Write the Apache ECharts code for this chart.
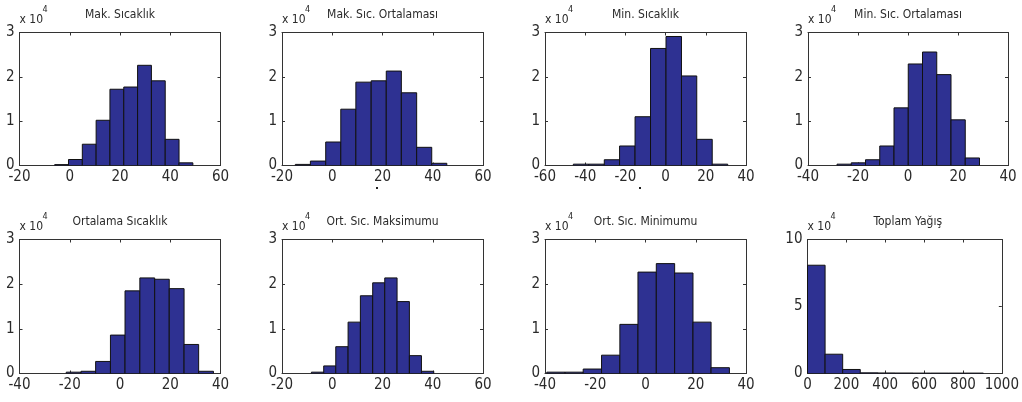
<!DOCTYPE html>
<html>
<head>
<meta charset="utf-8">
<script src="https://cdn.jsdelivr.net/npm/echarts@6/dist/echarts.min.js"></script>
<style>
html,body{margin:0;padding:0;background:#fff;}
#chart{width:1022px;height:402px;}
</style>
</head>
<body>
<div id="chart"></div>
<script>
// ---- data ----
const titles = ['Mak. Sıcaklık', 'Mak. Sıc. Ortalaması', 'Min. Sıcaklık', 'Min. Sıc. Ortalaması',
                'Ortalama Sıcaklık', 'Ort. Sıc. Maksimumu', 'Ort. Sıc. Minimumu', 'Toplam Yağış'];
const xMin = [-20, -20, -60, -40, -40, -20, -40, 0];
const xMax = [60, 60, 40, 40, 40, 60, 40, 1000];
const xStep = [20, 20, 20, 20, 20, 20, 20, 200];
const yMax = [3, 3, 3, 3, 3, 3, 3, 10];
const yStep = [1, 1, 1, 1, 1, 1, 1, 5];
const yScaleLabel = 'x 10';
const yScaleExp = '4';

// histogram bin edges (11 per panel) and counts (10 per panel)
const edges1 = [-6, -0.5, 5, 10.5, 16, 21.5, 27, 32.5, 38, 43.5, 49];
const counts1 = [200, 1350, 4800, 10200, 17200, 17700, 22600, 19100, 5900, 600];
const edges2 = [-14.7, -8.7, -2.6, 3.4, 9.4, 15.5, 21.5, 27.5, 33.6, 39.6, 45.6];
const counts2 = [250, 1000, 5300, 12700, 18800, 19100, 21300, 16400, 4100, 500];
const edges3 = [-45.9, -38.2, -30.5, -22.9, -15.2, -7.5, 0.2, 7.9, 15.5, 23.2, 30.9];
const counts3 = [300, 300, 1300, 4400, 11000, 26400, 29100, 20200, 5900, 300];
const edges4 = [-28.4, -22.7, -17.0, -11.3, -5.6, 0.1, 5.8, 11.5, 17.2, 22.9, 28.6];
const counts4 = [300, 600, 1300, 4400, 13000, 22900, 25600, 20500, 10300, 1700];
const edges5 = [-21.4, -15.5, -9.7, -3.8, 2.0, 7.9, 13.8, 19.6, 25.5, 31.3, 37.2];
const counts5 = [300, 500, 2700, 8600, 18500, 21400, 21100, 19000, 6500, 500];
const edges6 = [-8.3, -3.4, 1.4, 6.3, 11.2, 16.1, 20.9, 25.8, 30.7, 35.5, 40.4];
const counts6 = [300, 1700, 6000, 11500, 17400, 20300, 21400, 16100, 4000, 500];
const edges7 = [-39.3, -32.0, -24.8, -17.5, -10.2, -3.0, 4.3, 11.6, 18.9, 26.1, 33.4];
const counts7 = [300, 300, 1000, 4100, 11000, 22700, 24600, 22500, 11500, 1300];
const edges8 = [0, 90.5, 181, 271.5, 362, 452.5, 543, 633.5, 724, 814.5, 905];
const counts8 = [80800, 14400, 3000, 500, 400, 350, 300, 300, 300, 300];

const allEdges = [edges1, edges2, edges3, edges4, edges5, edges6, edges7, edges8];
const allCounts = [counts1, counts2, counts3, counts4, counts5, counts6, counts7, counts8];

// ---- layout ----
const gridLeft = [19.5, 282, 545, 808, 19.5, 282, 545, 807.5];
const gridWidth = [201, 201, 201, 200, 201, 201, 201, 200.5];
const gridTop = [32.5, 32.5, 32.5, 32.5, 239.5, 239.5, 239.5, 239.5];
const gridHeight = [133, 133, 133, 133, 134, 134, 134, 134];

const FONT = "'DejaVu Sans Condensed', 'Liberation Sans', sans-serif";
const TXT = '#2a2a2a';
const AX = '#333';
const BAR = '#2E3192';

const chart = echarts.init(document.getElementById('chart'), null, {renderer: 'canvas'});

const grid = [], xAxis = [], yAxis = [], series = [], graphic = [];
for (let i = 0; i < 8; i++) {
  grid.push({left: gridLeft[i], top: gridTop[i], width: gridWidth[i], height: gridHeight[i],
             show: false, containLabel: false});
  const tickCommon = {show: true, inside: true, length: 3, lineStyle: {color: AX, width: 1}};
  xAxis.push({type: 'value', gridIndex: i, position: 'bottom', min: xMin[i], max: xMax[i], interval: xStep[i],
    axisLine: {show: true, onZero: false, lineStyle: {color: AX, width: 1}},
    axisTick: tickCommon, splitLine: {show: false},
    axisLabel: {show: true, color: TXT, fontFamily: FONT, fontSize: 15, margin: 4,
                showMinLabel: true, showMaxLabel: true, formatter: function (v) { return String(v); }}});
  xAxis.push({type: 'value', gridIndex: i, position: 'top', min: xMin[i], max: xMax[i], interval: xStep[i],
    axisLine: {show: true, onZero: false, lineStyle: {color: AX, width: 1}},
    axisTick: tickCommon, splitLine: {show: false}, axisLabel: {show: false}});
  yAxis.push({type: 'value', gridIndex: i, position: 'left', min: 0, max: yMax[i], interval: yStep[i],
    axisLine: {show: true, onZero: false, lineStyle: {color: AX, width: 1}},
    axisTick: tickCommon, splitLine: {show: false},
    axisLabel: {show: true, color: TXT, fontFamily: FONT, fontSize: 15, margin: 5}});
  yAxis.push({type: 'value', gridIndex: i, position: 'right', min: 0, max: yMax[i], interval: yStep[i],
    axisLine: {show: true, onZero: false, lineStyle: {color: AX, width: 1}},
    axisTick: tickCommon, splitLine: {show: false}, axisLabel: {show: false}});

  const data = [];
  for (let k = 0; k < allCounts[i].length; k++) {
    data.push([allEdges[i][k], allEdges[i][k + 1], allCounts[i][k] / 1e4]);
  }
  series.push({
    type: 'custom', xAxisIndex: 2 * i, yAxisIndex: 2 * i, data: data,
    encode: {x: [0, 1], y: 2}, clip: true,
    renderItem: function (params, api) {
      const p0 = api.coord([api.value(0), api.value(2)]);
      const p1 = api.coord([api.value(1), 0]);
      return {type: 'rect',
        shape: {x: p0[0], y: p0[1], width: p1[0] - p0[0], height: p1[1] - p0[1]},
        style: {fill: BAR, stroke: '#111', lineWidth: 1}};
    }
  });

  const cx = gridLeft[i] + gridWidth[i] / 2;
  graphic.push({type: 'text', x: cx, y: gridTop[i] - 17.5,
    style: {text: titles[i], fill: TXT, font: '12px ' + FONT, textAlign: 'center', textVerticalAlign: 'middle'}});
  graphic.push({type: 'text', x: gridLeft[i], y: gridTop[i] - 13,
    style: {text: yScaleLabel, fill: TXT, font: '12px ' + FONT, textAlign: 'left', textVerticalAlign: 'middle'}});
  graphic.push({type: 'text', x: gridLeft[i] + 23, y: gridTop[i] - 23,
    style: {text: yScaleExp, fill: TXT, font: '9px ' + FONT, textAlign: 'left', textVerticalAlign: 'middle'}});
}
// small stray marks present in the original image
graphic.push({type: 'rect', shape: {x: 376, y: 187, width: 2, height: 2}, style: {fill: '#222'}});
graphic.push({type: 'rect', shape: {x: 639, y: 187, width: 2, height: 2}, style: {fill: '#222'}});

chart.setOption({
  backgroundColor: '#fff',
  animation: false,
  grid: grid, xAxis: xAxis, yAxis: yAxis, series: series, graphic: graphic
});
</script>
</body>
</html>
